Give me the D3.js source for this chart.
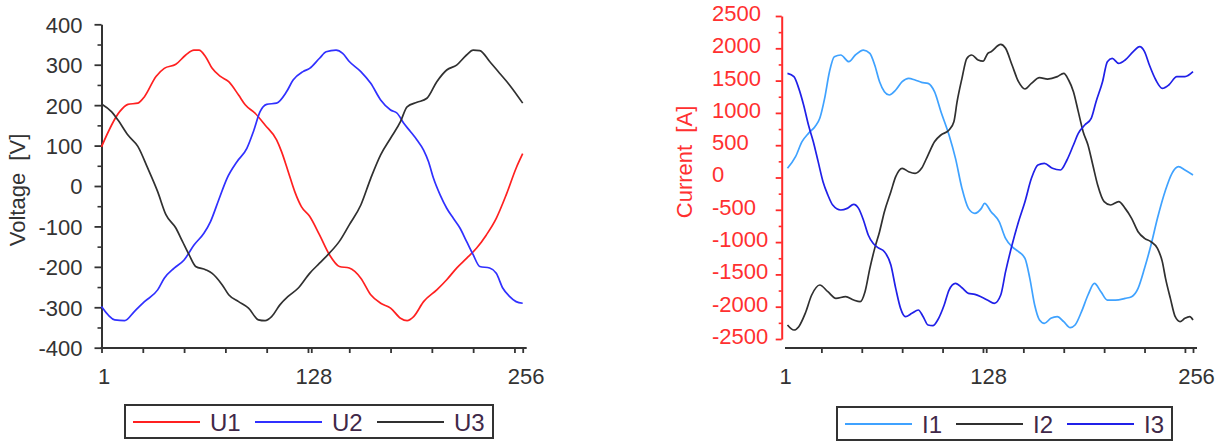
<!DOCTYPE html>
<html>
<head>
<meta charset="utf-8">
<script src="https://cdn.jsdelivr.net/npm/d3@7"></script>
<style>
body { margin: 0; background: #fff; }
svg text { font-family: "Liberation Sans", Arial, sans-serif; }
</style>
</head>
<body>
<script>
// [sample index, value]
var u1 = [[1,97],[12,184],[17,202],[23,205],[27,221],[34,271],[39,291],[46,301],[52,324],[57,336],[60,336],[64,320],[68,291],[73,271],[78,258],[84,225],[88,201],[94,180],[100,151],[107,114],[110,85],[114,36],[118,-14],[122,-51],[127,-75],[133,-121],[139,-170],[145,-199],[151,-203],[158,-228],[164,-269],[170,-290],[176,-302],[182,-327],[186,-333],[190,-323],[196,-286],[204,-257],[210,-232],[216,-203],[222,-179],[228,-154],[234,-121],[240,-80],[246,-22],[252,44],[256,80]];
var u2 = [[1,-298],[9,-331],[15,-333],[21,-310],[27,-286],[35,-257],[39,-228],[45,-203],[51,-183],[57,-146],[63,-117],[67,-88],[72,-34],[77,19],[83,60],[89,93],[93,135],[97,184],[101,202],[107,205],[113,233],[117,262],[123,283],[127,291],[133,316],[137,332],[143,336],[147,328],[151,308],[158,283],[164,254],[170,213],[176,188],[180,180],[184,155],[188,135],[192,114],[196,89],[199,60],[202,19],[206,-22],[210,-55],[214,-80],[218,-104],[222,-137],[226,-170],[230,-199],[236,-203],[240,-216],[244,-253],[248,-273],[252,-286],[256,-290]];
var u3 = [[1,203],[7,184],[11,163],[17,126],[23,98],[29,44],[35,-14],[40,-71],[46,-104],[50,-137],[54,-170],[58,-199],[64,-207],[68,-216],[74,-244],[78,-269],[84,-286],[90,-302],[96,-331],[100,-333],[104,-323],[109,-294],[114,-273],[120,-253],[127,-216],[133,-191],[139,-166],[145,-137],[151,-96],[158,-47],[164,19],[170,77],[176,118],[182,159],[186,196],[192,207],[198,217],[204,258],[210,287],[216,299],[222,324],[226,336],[230,335],[236,308],[242,279],[248,250],[256,205]];

var i1 = [[5,142],[10,322],[14,554],[18,683],[22,787],[25,916],[28,1225],[31,1638],[34,1870],[38,1896],[43,1793],[47,1896],[52,1973],[56,1922],[59,1741],[62,1483],[65,1328],[68,1277],[72,1354],[76,1483],[80,1535],[84,1509],[88,1473],[92,1457],[96,1328],[100,1019],[105,658],[109,296],[113,-168],[117,-478],[121,-555],[125,-478],[127,-400],[131,-529],[136,-684],[140,-942],[144,-1071],[148,-1148],[152,-1252],[155,-1561],[158,-1974],[161,-2206],[164,-2258],[168,-2180],[172,-2155],[176,-2232],[180,-2325],[183,-2284],[187,-2077],[191,-1819],[195,-1639],[199,-1768],[203,-1897],[208,-1897],[214,-1871],[218,-1845],[222,-1716],[226,-1406],[230,-1045],[234,-632],[239,-194],[243,64],[247,167],[251,116],[256,38]];
var i2 = [[5,-2284],[9,-2361],[12,-2309],[16,-2103],[20,-1819],[25,-1664],[30,-1768],[35,-1871],[41,-1845],[46,-1897],[50,-1922],[53,-1768],[56,-1406],[59,-1097],[62,-839],[65,-529],[69,-220],[72,13],[76,142],[80,90],[84,64],[88,142],[92,348],[96,554],[100,658],[105,735],[108,864],[110,1174],[113,1535],[116,1844],[119,1896],[123,1819],[126,1800],[129,1922],[131,1948],[137,2061],[140,2000],[144,1741],[148,1483],[152,1370],[156,1457],[161,1545],[166,1524],[172,1561],[176,1612],[179,1509],[182,1328],[185,1019],[188,709],[191,503],[194,193],[197,-116],[201,-374],[205,-426],[210,-374],[214,-478],[218,-632],[222,-839],[226,-942],[230,-994],[234,-1097],[237,-1303],[239,-1561],[242,-1871],[245,-2155],[248,-2232],[251,-2180],[254,-2155],[256,-2206]];
var i3 = [[5,1612],[9,1561],[12,1380],[15,1122],[18,812],[21,554],[24,245],[27,-65],[30,-271],[33,-426],[38,-503],[42,-478],[46,-416],[49,-478],[52,-658],[55,-890],[58,-1019],[61,-1086],[65,-1148],[69,-1355],[72,-1716],[75,-2026],[78,-2155],[82,-2103],[86,-2051],[89,-2155],[92,-2284],[95,-2294],[98,-2206],[102,-1974],[105,-1742],[109,-1639],[113,-1706],[117,-1793],[121,-1809],[125,-1850],[129,-1900],[133,-1948],[137,-1819],[140,-1458],[144,-1045],[148,-684],[152,-374],[156,-13],[160,193],[164,219],[169,142],[174,116],[178,271],[182,503],[185,683],[189,812],[193,916],[196,1174],[200,1483],[203,1793],[206,1844],[210,1767],[214,1819],[219,1948],[223,2025],[226,1948],[229,1741],[233,1509],[237,1380],[241,1432],[246,1561],[251,1561],[256,1638]];

var voltNames = ["U1", "U2", "U3"];
var currNames = ["I1", "I2", "I3"];
var sampleLabels = [1, 128, 256];
var sampleMinor = d3.range(1, 257, 25);
var voltTicks = d3.range(-400, 401, 100);
var voltMinor = d3.range(-350, 400, 100);
var currTicks = d3.range(-2500, 2501, 500);
var currMinor = d3.range(-2250, 2500, 500);

// plain integers with an ascii minus, no thousands separator
var plain = function(d){ return String(d); };

var svg = d3.select("body").append("svg")
    .attr("width", 1223)
    .attr("height", 446);

function drawPanel(p) {
    var x = d3.scaleLinear().domain([1, 256]).range(p.xRange);
    var y = d3.scaleLinear().domain(p.yDomain).range(p.yRange);
    var g = svg.append("g");

    // y axis, minor ticks carry the axis line
    var yMin = g.append("g")
        .attr("transform", "translate(" + p.yAxisX + ",0)")
        .call(d3.axisLeft(y).tickValues(p.yMinor).tickSize(p.minorLen).tickSizeOuter(0).tickFormat(""));
    yMin.select(".domain").attr("stroke", p.yColor).attr("stroke-width", 2);
    yMin.selectAll(".tick line").attr("stroke", p.yColor).attr("stroke-width", 1.6);

    var yMaj = g.append("g")
        .attr("transform", "translate(" + p.yAxisX + ",0)")
        .call(d3.axisLeft(y).tickValues(p.yTicks).tickFormat(plain).tickSize(p.majorLen).tickPadding(p.labelPad));
    yMaj.select(".domain").remove();
    yMaj.selectAll(".tick line").attr("stroke", p.yColor).attr("stroke-width", 1.8);
    yMaj.selectAll("text")
        .attr("fill", p.labelColor)
        .style("font-size", "22px")
        .attr("dy", p.labelDy);
    if (p.labelLeftX != null) {
        yMaj.selectAll("text")
            .attr("text-anchor", "start")
            .attr("x", p.labelLeftX - p.yAxisX);
    }

    // x axis
    g.append("line")
        .attr("x1", p.xLineStart).attr("x2", x(256) + 4)
        .attr("y1", p.xAxisY).attr("y2", p.xAxisY)
        .attr("stroke", "#333").attr("stroke-width", 2);

    var xMin = g.append("g")
        .attr("transform", "translate(0," + p.xAxisY + ")")
        .call(d3.axisBottom(x).tickValues(sampleMinor.filter(function(d){ return d > p.firstTick; })).tickSize(5).tickSizeOuter(0).tickFormat(""));
    xMin.select(".domain").remove();
    xMin.selectAll(".tick line").attr("stroke", "#333").attr("stroke-width", 1.8);

    var xMaj = g.append("g")
        .attr("transform", "translate(0," + p.xAxisY + ")")
        .call(d3.axisBottom(x).tickValues(sampleLabels).tickFormat(plain).tickSize(5).tickPadding(15));
    xMaj.select(".domain").remove();
    xMaj.selectAll(".tick line")
        .attr("stroke", "#333").attr("stroke-width", 1.8)
        .attr("opacity", function(d){ return d < p.firstTick + 1 && p.firstTick > 1 ? 0 : 1; });
    xMaj.selectAll("text")
        .attr("fill", "#333")
        .style("font-size", "22px")
        .attr("dx", function(d){ return d == 1 ? p.oneDx : (d == 128 ? 2 : 3); });

    // axis title
    g.append("text")
        .attr("transform", "translate(" + p.titleX + "," + p.titleY + ") rotate(-90)")
        .attr("text-anchor", "middle")
        .attr("fill", p.titleColor)
        .style("font-size", "22px")
        .style("white-space", "pre")
        .text(p.title);

    // series
    var line = d3.line()
        .x(function(d){ return x(d[0]); })
        .y(function(d){ return y(d[1]); })
        .curve(d3.curveMonotoneX);

    p.series.forEach(function(s, k) {
        g.append("path")
            .datum(s)
            .attr("fill", "none")
            .attr("stroke", p.colors[k])
            .attr("stroke-width", 1.7)
            .attr("stroke-linejoin", "round")
            .attr("d", line);
    });

    // legend
    var lg = g.append("g");
    lg.append("rect")
        .attr("x", p.legend.x).attr("y", p.legend.y)
        .attr("width", p.legend.w).attr("height", p.legend.h)
        .attr("fill", "#fff").attr("stroke", "#333").attr("stroke-width", 2);
    p.names.forEach(function(name, k) {
        var lx = p.legend.x + 8 + k * p.legend.step;
        lg.append("line")
            .attr("x1", lx).attr("x2", lx + 67)
            .attr("y1", p.legend.lineY).attr("y2", p.legend.lineY)
            .attr("stroke", p.colors[k]).attr("stroke-width", 2);
        lg.append("text")
            .attr("x", lx + 77).attr("y", p.legend.textY)
            .attr("fill", "#402848")
            .style("font-size", "24px")
            .text(name);
    });
}

drawPanel({
    xRange: [101.5, 522.7], yDomain: [-400, 400], yRange: [347.7, 24.3],
    yAxisX: 101.5, xAxisY: 348, xLineStart: 100.5, firstTick: 1, oneDx: 2,
    yTicks: voltTicks, yMinor: voltMinor, majorLen: 7, minorLen: 4, labelPad: 12,
    labelDy: "0.36em", labelLeftX: null,
    yColor: "#333", labelColor: "#333",
    title: "Voltage  [V]", titleX: 25, titleY: 190, titleColor: "#333",
    series: [u1, u2, u3], names: voltNames, colors: ["#ff2020", "#3030ff", "#303030"],
    legend: { x: 125, y: 405, w: 368, h: 33, step: 122, lineY: 422, textY: 431 }
});

drawPanel({
    xRange: [781, 1193], yDomain: [-2500, 2500], yRange: [339, 16],
    yAxisX: 781.7, xAxisY: 348, xLineStart: 785, firstTick: 2, oneDx: 4,
    yTicks: currTicks, yMinor: currMinor, majorLen: 6, minorLen: 3, labelPad: 8,
    labelDy: "0.2em", labelLeftX: 712,
    yColor: "#ff2a2a", labelColor: "#ff3030",
    title: "Current  [A]", titleX: 692, titleY: 162, titleColor: "#ff3030",
    series: [i1, i2, i3], names: currNames, colors: ["#3fa2ff", "#303030", "#2020e8"],
    legend: { x: 837, y: 407, w: 335, h: 33, step: 111, lineY: 424, textY: 433 }
});
</script>
</body>
</html>
